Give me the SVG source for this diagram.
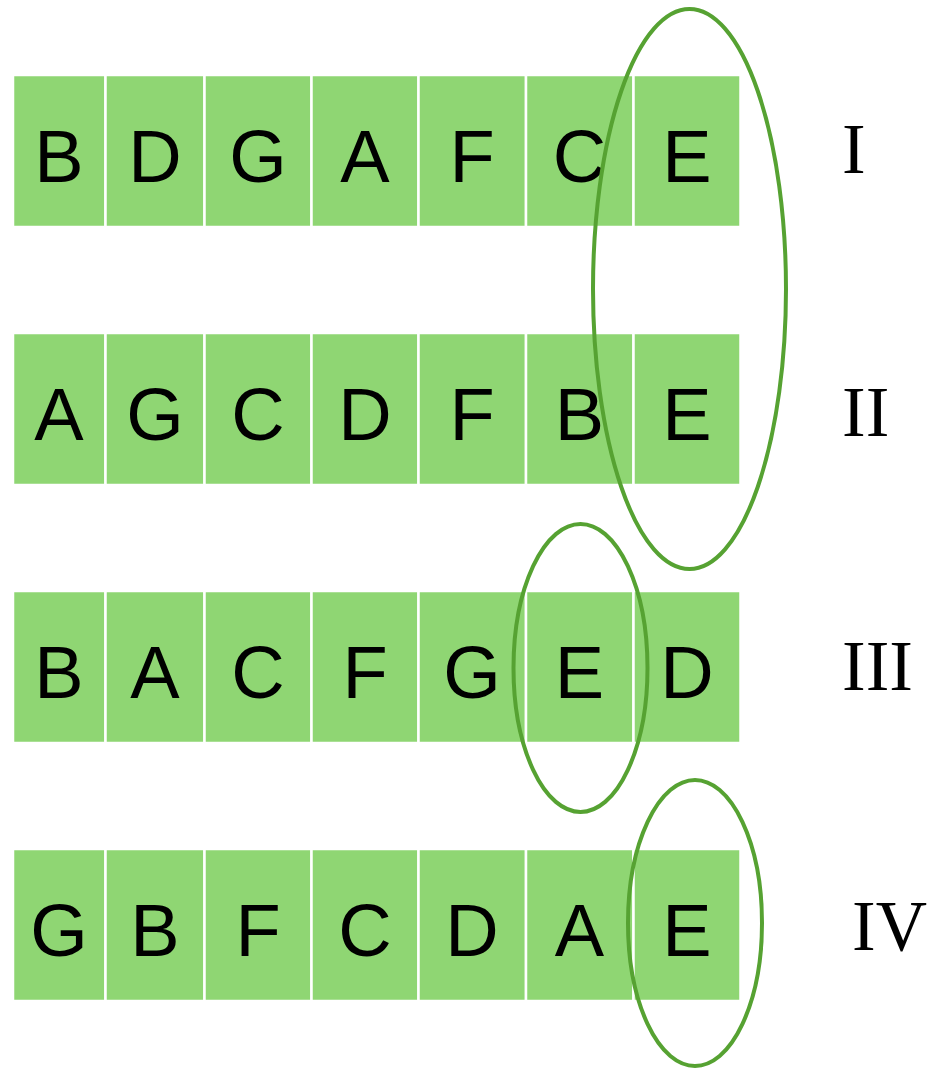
<svg xmlns="http://www.w3.org/2000/svg" width="929" height="1069" viewBox="0 0 929 1069">
<style>
.c{fill:#8fd673;stroke:#ffffff;stroke-width:2.5}
.t{font-family:"Liberation Sans",Arial,sans-serif;font-size:74px;fill:#000;text-anchor:middle}
.r{font-family:"Liberation Serif","Times New Roman",serif;font-size:71px;fill:#000}
.e{fill:none;stroke:#56a232;stroke-width:4}
</style>
<rect width="929" height="1069" fill="#fff"/>
<defs>
<g id="row">
<rect class="c" x="13" y="0" width="92.5" height="152"/>
<rect class="c" x="105.5" y="0" width="99" height="152"/>
<rect class="c" x="204.5" y="0" width="107" height="152"/>
<rect class="c" x="311.5" y="0" width="107" height="152"/>
<rect class="c" x="418.5" y="0" width="107.5" height="152"/>
<rect class="c" x="526" y="0" width="107.5" height="152"/>
<rect class="c" x="633.5" y="0" width="107" height="152"/>
</g>
</defs>
<g id="row1">
<use href="#row" x="0" y="75"/>
<text class="t" x="59" y="182">B</text><text class="t" x="155" y="182">D</text><text class="t" x="258" y="182">G</text><text class="t" x="365" y="182">A</text><text class="t" x="472" y="182">F</text><text class="t" x="579.5" y="182">C</text><text class="t" x="687" y="182">E</text>
<text class="r" x="842" y="173">I</text>
</g>
<g id="row2">
<use href="#row" x="0" y="333"/>
<text class="t" x="59" y="440">A</text><text class="t" x="155" y="440">G</text><text class="t" x="258" y="440">C</text><text class="t" x="365" y="440">D</text><text class="t" x="472" y="440">F</text><text class="t" x="579.5" y="440">B</text><text class="t" x="687" y="440">E</text>
<text class="r" x="842" y="436">II</text>
</g>
<g id="row3">
<use href="#row" x="0" y="591"/>
<text class="t" x="59" y="698">B</text><text class="t" x="155" y="698">A</text><text class="t" x="258" y="698">C</text><text class="t" x="365" y="698">F</text><text class="t" x="472" y="698">G</text><text class="t" x="579.5" y="698">E</text><text class="t" x="687" y="698">D</text>
<text class="r" x="842" y="690">III</text>
</g>
<g id="row4">
<use href="#row" x="0" y="849"/>
<text class="t" x="59" y="956">G</text><text class="t" x="155" y="956">B</text><text class="t" x="258" y="956">F</text><text class="t" x="365" y="956">C</text><text class="t" x="472" y="956">D</text><text class="t" x="579.5" y="956">A</text><text class="t" x="687" y="956">E</text>
<text class="r" x="852" y="950">IV</text>
</g>
<g id="ellipses">
<ellipse class="e" cx="689.5" cy="289" rx="96.5" ry="280"/>
<ellipse class="e" cx="580.5" cy="668" rx="67" ry="144"/>
<ellipse class="e" cx="695" cy="923" rx="67" ry="143"/>
</g>
</svg>
